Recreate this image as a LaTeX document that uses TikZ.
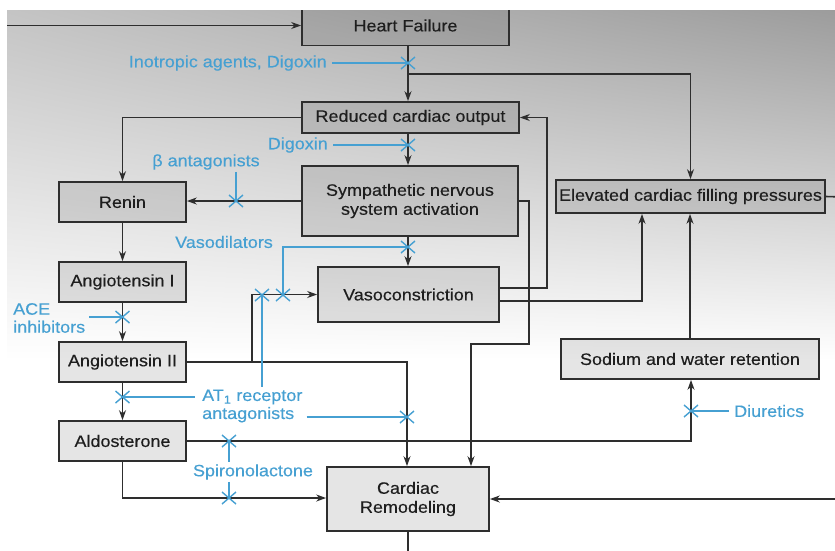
\documentclass[tikz,border=0pt]{standalone}
\usepackage{fontspec}
\setmainfont{Liberation Sans}[FakeStretch=1.09,FakeBold=0.3]
\usetikzlibrary{arrows.meta,calc,shadings}
\definecolor{ln}{HTML}{2e2e2e}
\definecolor{bl}{RGB}{70,160,210}
\definecolor{tx}{HTML}{1e1e1e}
\definecolor{bgl}{RGB}{196,196,196}
\definecolor{bgr}{RGB}{156,156,156}
\tikzset{
  box/.style={draw=ln, line width=1.7pt, fill=black, fill opacity=0.1, text opacity=1,
    text=tx, inner sep=0pt, align=center, font=\fontsize{16.5}{19}\selectfont},
  lbl/.style={text=bl, inner sep=2pt, font=\fontsize{16.5}{18}\selectfont},
  arr/.style={draw=ln, line width=1.6pt, -{Stealth[length=10pt,width=7pt]}},
  pln/.style={draw=ln, line width=1.6pt},
  bline/.style={draw=bl, line width=1.4pt},
  blk/.pic={\draw[bline] (-7,-6) -- (7,6) (-7,6) -- (7,-6);}
}
\begin{document}
\begin{tikzpicture}[x=1pt,y=-1pt]
\useasboundingbox (0,0) rectangle (835,550);
\fill[white] (0,0) rectangle (835,550);
\begin{scope}
\clip (7,10) rectangle (835,550);
\shade[upper left=bgl, upper right=bgr, lower left=white, lower right=white] (7,10) rectangle (835,360);

% boxes
\node[box, minimum width=207pt, minimum height=40pt] (hf) at (405.5,25.5) {Heart Failure};
\node[box, minimum width=217pt, minimum height=31pt] (rco) at (410.5,117.5) {Reduced cardiac output};
\node[box, minimum width=216pt, minimum height=70pt] (sns) at (410,201) {Sympathetic nervous\\system activation};
\node[box, minimum width=127pt, minimum height=40pt] (ren) at (122.5,202) {Renin};
\node[box, minimum width=127pt, minimum height=40pt] (ang1) at (122.5,282) {Angiotensin I};
\node[box, minimum width=127pt, minimum height=40pt] (ang2) at (122.5,362) {Angiotensin II};
\node[box, minimum width=127pt, minimum height=40pt] (ald) at (122.5,441) {Aldosterone};
\node[box, minimum width=181pt, minimum height=55pt] (vaso) at (408.5,294.5) {Vasoconstriction};
\node[box, minimum width=269pt, minimum height=33pt] (efp) at (690.5,196.5) {Elevated cardiac filling pressures};
\node[box, minimum width=258pt, minimum height=40pt] (sod) at (690,359) {Sodium and water retention};
\node[box, minimum width=162pt, minimum height=64pt] (crem) at (408,499) {Cardiac\\Remodeling};

% helper coordinates
\coordinate (mx) at (408,0);
\coordinate (lin) at (5,25.5);
\coordinate (j1) at (408,74);
\coordinate (k1) at (529,344);
\coordinate (k2) at (471,344);
\coordinate (eout) at (845,197);
\coordinate (a2r) at (407,362);
\coordinate (a2v) at (252,362);
\coordinate (ald1) at (691,441);
\coordinate (ald2) at (122.5,498);
\coordinate (rin) at (845,499);
\coordinate (cout) at (408,560);

% black connectors
\draw[arr] (lin) -- (hf.west);
\draw[arr] (hf.south -| mx) -- (rco.north -| mx);
\draw[arr] (j1) -| (efp.north);
\draw[arr] (rco.south -| mx) -- (sns.north -| mx);
\draw[arr] (rco.west) -| (ren.north);
\draw[arr] (sns.west) -- (ren.east |- sns.west);
\draw[arr] (sns.south -| mx) -- (vaso.north -| mx);
\draw[arr] ([yshift=6.5pt]vaso.east) -- ++(47,0) |- (rco.east);
\draw[arr] ([yshift=-6.5pt]vaso.east) -| ([xshift=-48.5pt]efp.south);
\draw[arr] (sns.east) -| (k1) -- (k2) -- (k2 |- crem.north);
\draw[pln] (efp.east) -- (eout);
\draw[arr] (sod.north) -- (sod.north |- efp.south);
\draw[arr] (ren.south) -- (ang1.north);
\draw[arr] (ang1.south) -- (ang2.north);
\draw[arr] (ang2.south) -- (ald.north);
\draw[arr] (ang2.east) -- (a2r) -- (a2r |- crem.north);
\draw[arr] (a2v) |- (vaso.west);
\draw[arr] (ald.east) -- (ald1) -- (ald1 |- sod.south);
\draw[arr] (ald.south) -- (ald2) -- (ald2 -| crem.west);
\draw[arr] (rin) -- (crem.east);
\draw[pln] (crem.south) -- (cout);

% blocker points
\coordinate (b1) at (408,63);
\coordinate (b2) at (408,145);
\coordinate (b3) at (236,201);
\coordinate (b4) at (408,247);
\coordinate (b5) at (283,295);
\coordinate (b6) at (262,295);
\coordinate (b7) at (122.5,317);
\coordinate (b8) at (122.5,397);
\coordinate (b9) at (407,417);
\coordinate (b10) at (229,441);
\coordinate (b11) at (229,498);
\coordinate (b12) at (691,411);

% blue labels
\node[lbl, anchor=east] (lino) at (329,63) {Inotropic agents, Digoxin};
\node[lbl, anchor=east] (ldig) at (330,145) {Digoxin};
\node[lbl] (lbeta) at (206,162) {β antagonists};
\node[lbl] (lvas) at (224,242) {Vasodilators};
\node[lbl, anchor=west, align=left] (lace) at (11,318) {ACE\\inhibitors};
\node[lbl, anchor=west, align=left] (lat) at (200,406) {AT\textsubscript{1} receptor\\antagonists};
\node[lbl] (lsp) at (253,472) {Spironolactone};
\node[lbl, anchor=west] (ldiu) at (732,411) {Diuretics};

% blue lines
\draw[bline] ([xshift=3pt]lino.east) -- (b1);
\draw[bline] ([xshift=3pt]ldig.east) -- (b2);
\draw[bline] (lbeta.south -| b3) -- (b3);
\draw[bline] (b4) -| (b5);
\draw[bline] (b6) -- (b6 |- lat.north);
\draw[bline] (b7) -- ([xshift=2pt]b7 -| lace.east);
\draw[bline] (b8) -- ([xshift=-5pt]b8 -| lat.west);
\draw[bline] ([xshift=2pt]b9 -| lat.east) -- (b9);
\draw[bline] (b10) -- (lsp.north -| b10);
\draw[bline] (lsp.south -| b10) -- (b11);
\draw[bline] ([xshift=-3pt]ldiu.west) -- (b12);

% blockers
\foreach \b in {b1,b2,b3,b4,b5,b6,b7,b8,b9,b10,b11,b12} \pic at (\b) {blk};
\end{scope}
\end{tikzpicture}
\end{document}
